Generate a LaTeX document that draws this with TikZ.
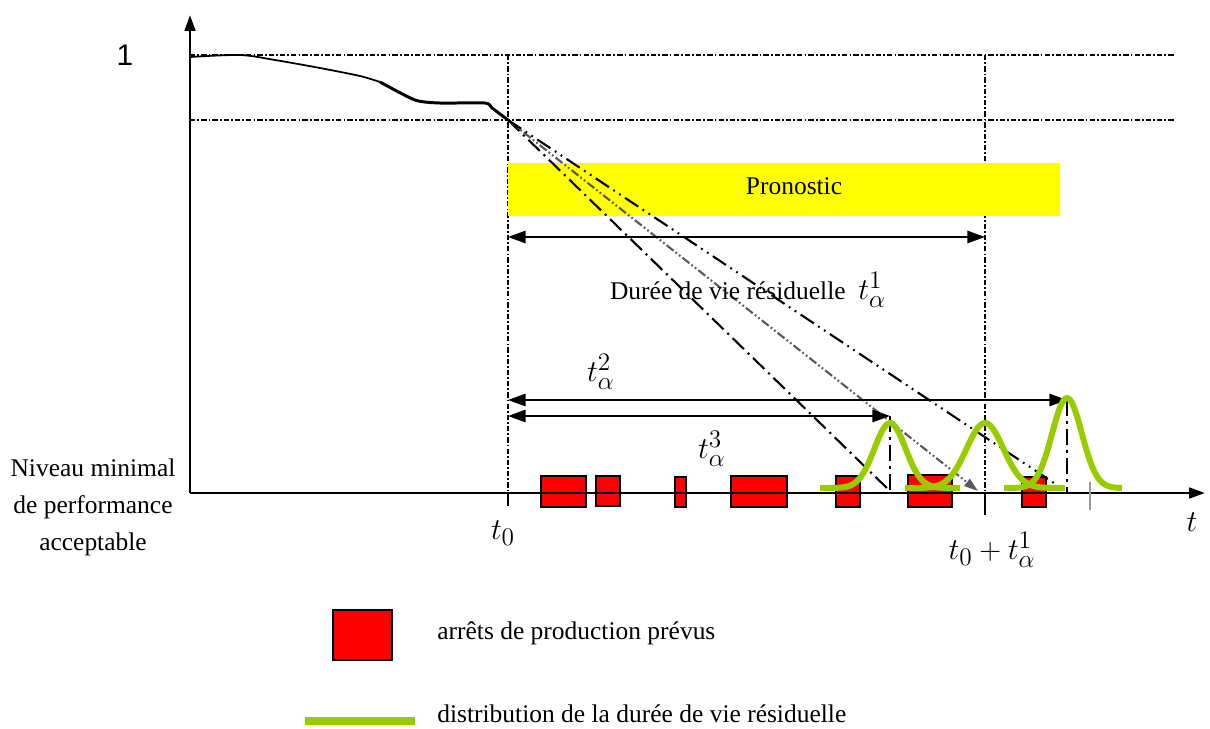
\documentclass[tikz,border=0pt]{standalone}
\usepackage{fontspec}
\setmainfont{Liberation Serif}
\newfontfamily\arialfont{Liberation Sans}
\usetikzlibrary{arrows.meta,positioning}
\definecolor{ProgYellow}{HTML}{FFFF00}
\definecolor{StopRed}   {HTML}{FF0000}
\definecolor{DistGreen} {HTML}{99CC00}
\begin{document}
\begin{tikzpicture}[x=0.02cm,y=-0.02cm,
  axis/.style={line width=1.6pt,-{Triangle[length=9pt,width=6pt]}},
  guide/.style={line width=1.2pt,dash pattern=on 3pt off 1.2pt on 1pt off 1.2pt},
  span/.style={line width=1pt,
    {Triangle[length=10pt,width=7pt]}-{Triangle[length=10pt,width=7pt]}},
  stop/.style={draw=black,fill=StopRed,line width=0.7pt},
  gauss/.style={DistGreen,line width=3.4pt},
  drop/.style={line width=1.6pt,dash pattern=on 9pt off 3pt on 1.5pt off 3pt},
  txt/.style={font=\fontsize{14.5}{21}\selectfont,inner sep=0pt},
  mth/.style={font=\fontsize{19}{22}\selectfont,inner sep=0pt}]
  \useasboundingbox (0,0) rectangle (1210,728);
  % key points
  \coordinate (O)    at (190,493);
  \coordinate (Ytop) at (190,15);
  \coordinate (Xend) at (1205,493);
  \coordinate (T0)   at (508,493);
  \coordinate (T1)   at (985,493);
  \coordinate (Knee) at (508,120);
  % guides
  \draw[guide] (190,55) -- (1175,55);
  \draw[guide] (190,120) -- (1175,120);
  \draw[guide] (508,55) -- (T0);
  \draw[guide] (985,55) -- (T1);
  % prognosis band
  \fill[ProgYellow] (508,163) rectangle (1060,216);
  \node[txt] (pron) at (794,186) {Pronostic};
  % degradation curve
  \draw[line width=1pt] plot[smooth,tension=0.5] coordinates
    {(190,57) (240,55) (275,60) (320,68) (360,76) (380,82)};
  \draw[line width=1.7pt] plot[smooth,tension=0.4] coordinates
    {(380,82) (415,100) (440,103) (485,103) (492,108) (Knee)};
  % planned stops
  \draw[stop] (541,476) rectangle (586,507);
  \draw[stop] (596,476) rectangle (620,506);
  \draw[stop] (675,477) rectangle (686,507);
  \draw[stop] (731,476) rectangle (787,507);
  \draw[stop] (836,476) rectangle (860,507);
  \draw[stop] (908,475) rectangle (952,507);
  \draw[stop] (1022,477) rectangle (1046,507);
  % axes
  \draw[axis] (O) -- (Ytop);
  \draw[axis] (O) -- (Xend);
  \draw[line width=0.7pt] (T0) -- ++(0,13);
  \draw[line width=0.7pt] (T1) -- ++(0,22);
  \draw[black!40,line width=0.8pt] (1090,482) -- (1090,510);
  % projections
  \coordinate (P3) at (890,491);
  \coordinate (P1) at (978,491);
  \coordinate (P2) at (1063,489);
  \draw[line width=1.2pt,dash pattern=on 9pt off 3pt on 1.2pt off 3pt] (Knee) -- (P3);
  \draw[black!65,line width=1.2pt,
    dash pattern=on 5pt off 1.5pt on 1pt off 1.5pt on 1pt off 1.5pt,
    -{Triangle[length=8pt,width=5pt]}] (Knee) -- (P1);
  \draw[line width=1.2pt,
    dash pattern=on 9pt off 3pt on 1pt off 3pt on 1pt off 3pt] (Knee) -- (P2);
  % residual life spans
  \coordinate (S1a) at (508,237);
  \coordinate (S1b) at (985,237);
  \coordinate (S2a) at (508,400);
  \coordinate (S2b) at (1067,400);
  \coordinate (S3a) at (508,416);
  \coordinate (S3b) at (890,416);
  \draw[span] (S1a) -- (S1b);
  \draw[span] (S2a) -- (S2b);
  \draw[span] (S3a) -- (S3b);
  \draw[drop] (S3b) -- (890,492);
  \draw[drop] (S2b) -- (1067,493);
  % residual life distributions
  \draw[gauss] plot[domain=-70:70,samples=70] ({890+\x},{488-65*exp(-(\x/22)^2)});
  \draw[gauss] plot[domain=-80:80,samples=70] ({985+\x},{488-65*exp(-(\x/26)^2)});
  \draw[gauss] plot[domain=-63:55,samples=70] ({1067+\x},{488-90*exp(-(\x/21)^2)});
  % labels
  \node[font=\arialfont\fontsize{17}{20}\selectfont] (one) at (125,55) {1};
  \node[txt] (dvr) at (748,290) {Durée de vie résiduelle \ \fontsize{19}{22}\selectfont$t_\alpha^1$};
  \node[mth] (lt2) at (601,372) {$t_\alpha^2$};
  \node[mth] (lt3) at (712,449) {$t_\alpha^3$};
  \node[mth] (lt)  at (1192,522) {$t$};
  \node[mth] (lt0) at (503,533) {$t_0$};
  \node[mth] (lt01) at (992,550) {$t_0+t_\alpha^1$};
  \node[txt,align=center] (nmp) at (93,507)
    {Niveau minimal\\de performance\\acceptable};
  % legend
  \draw[stop] (333,610) rectangle (392,660);
  \node[txt,anchor=west] (lgstop) at (437,633) {arrêts de production prévus};
  \draw[DistGreen,line width=4.5pt] (305,721) -- (415,721);
  \node[txt,anchor=west] (lgdist) at (437,714) {distribution de la durée de vie résiduelle};
\end{tikzpicture}
\end{document}
